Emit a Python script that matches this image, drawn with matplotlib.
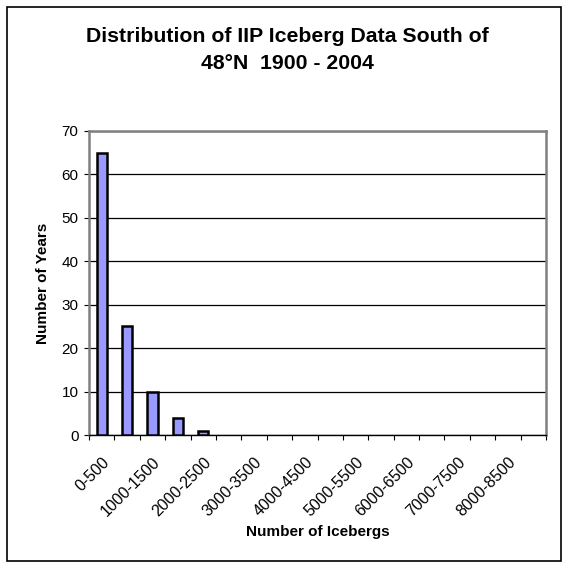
import matplotlib
matplotlib.use('Agg')
import matplotlib.pyplot as plt
from matplotlib.patches import Rectangle
import numpy as np

plt.rcParams['font.family'] = ['Liberation Sans', 'DejaVu Sans']

# iceberg count bins (500 wide) and number of years in each
bins = [f"{lo}-{lo + 500}" for lo in range(0, 9000, 500)]
years = [65, 25, 10, 4, 1, 0, 0, 0, 0, 0, 0, 0, 0, 0, 0, 0, 0, 0]
yticks = [0, 10, 20, 30, 40, 50, 60, 70]

fig = plt.figure(figsize=(5.62, 5.67), dpi=100)
ax = fig.add_axes([0.1584, 0.2328, 0.8132, 0.5362])

x = np.arange(len(bins))
# excel does not draw the empty bars
edges = ['black' if v > 0 else 'none' for v in years]
ax.bar(x, years, width=0.4, color='#9999ff', edgecolor=edges, linewidth=1.8, zorder=3)

ax.set_xlim(-0.5, len(bins) - 0.5)
ax.set_ylim(0, 70)
ax.set_yticks(yticks)
ax.yaxis.grid(True, color='black', linewidth=0.9, zorder=0)

# ticks between categories, labels on every other category
ax.set_xticks(np.arange(-0.5, len(bins) + 0.5, 1.0))
ax.set_xticklabels([])
ax.set_xticks(x[::2], minor=True)
ax.set_xticklabels(bins[::2], minor=True, rotation=45, ha='right', va='top',
                   rotation_mode='anchor', fontsize=11.5)
ax.tick_params(axis='x', which='minor', length=0, pad=14)
ax.tick_params(axis='x', which='major', length=3.6, direction='out', color='black')
ax.tick_params(axis='y', length=3.6, direction='out', labelsize=11, color='black', pad=4)

for side in ['top', 'right', 'left']:
    ax.spines[side].set_color('#808080')
    ax.spines[side].set_linewidth(1.8)
ax.spines['bottom'].set_color('black')
ax.spines['bottom'].set_linewidth(1.0)

ax.set_xlabel('Number of Icebergs', fontsize=11, fontweight='bold', va='center')
ax.xaxis.set_label_coords(0.5, -0.319)
ax.set_ylabel('Number of Years', fontsize=11, fontweight='bold', labelpad=8)

fig.text(0.511, 0.912, 'Distribution of IIP Iceberg Data South of\n48\u00b0N  1900 - 2004',
         ha='center', va='center', fontsize=15.3, fontweight='bold', linespacing=1.5)

# outer chart border
fig.patches.append(Rectangle((0.0125, 0.010), 0.985, 0.978, transform=fig.transFigure,
                             fill=False, edgecolor='black', linewidth=1.2))

fig.savefig('out.png', dpi=100)
